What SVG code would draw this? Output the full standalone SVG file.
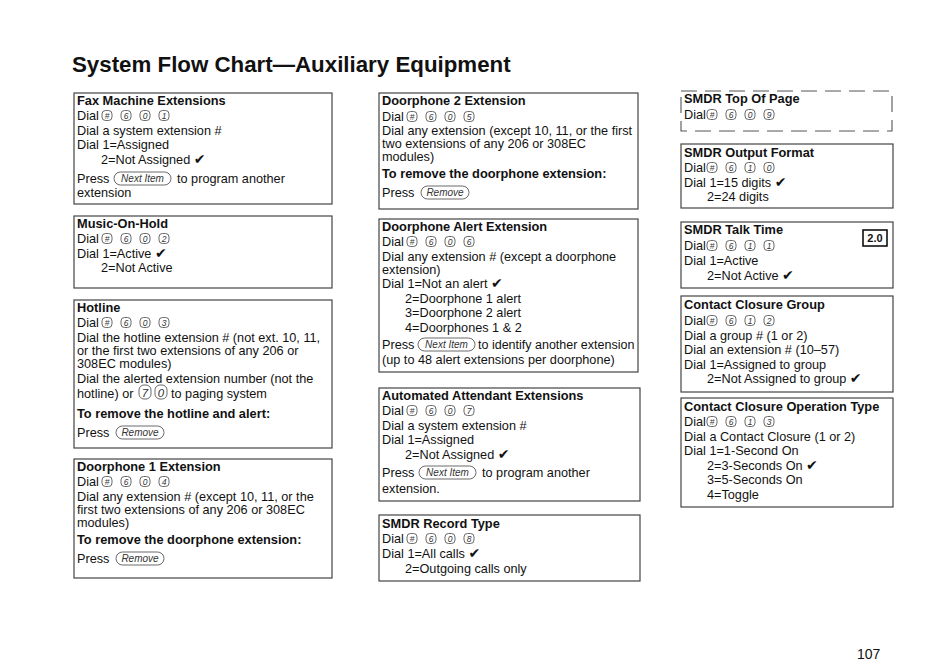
<svg xmlns="http://www.w3.org/2000/svg" width="950" height="669" viewBox="0 0 950 669">
<style>
text{font-family:"Liberation Sans",Arial,Helvetica,sans-serif;fill:#111;font-size:12.7px}
.b{font-weight:bold;font-size:12.8px}
.h1{font-weight:bold;font-size:22.3px}
.box{fill:#fff;stroke:#444;stroke-width:1.2}
.dash{fill:none;stroke:#555;stroke-width:1.1;stroke-dasharray:16 8}
.k{fill:#fff;stroke:#444;stroke-width:0.8}
.kt{font-size:8.5px;font-style:italic;text-anchor:middle;fill:#333}
.kb{font-size:11.5px;font-style:italic;text-anchor:middle;fill:#333}
.bt{font-size:10px;font-style:italic;text-anchor:middle;fill:#333}
.ck{font-family:"DejaVu Sans",sans-serif;font-size:14px}
.badge{fill:#fff;stroke:#000;stroke-width:1.5}
.bdg{font-size:11px;font-weight:bold;text-anchor:middle}
</style>
<defs>
<g id="key"><rect class="k" x="-5" y="-5" width="10" height="10" rx="3.5"/></g>
<g id="nextitem"><rect class="k" x="0" y="0" width="57" height="13" rx="6.5"/><text class="bt" x="28.5" y="9.8">Next Item</text></g>
<g id="remove"><rect class="k" x="0" y="0" width="48" height="13" rx="6.5"/><text class="bt" x="24" y="9.8">Remove</text></g>
</defs>
<rect width="950" height="669" fill="#fff"/>
<text class="h1" x="72" y="72">System Flow Chart—Auxiliary Equipment</text>

<g id="fax">
<rect class="box" x="74" y="93" width="258" height="111"/>
<text class="b" x="77" y="105">Fax Machine Extensions</text>
<text x="77" y="120">Dial</text>
<use href="#key" x="107" y="115.5"/><text class="kt" x="107" y="118.5">#</text>
<use href="#key" x="126" y="115.5"/><text class="kt" x="126" y="118.5">6</text>
<use href="#key" x="145" y="115.5"/><text class="kt" x="145" y="118.5">0</text>
<use href="#key" x="164" y="115.5"/><text class="kt" x="164" y="118.5">1</text>
<text x="77" y="135">Dial a system extension #</text>
<text x="77" y="149">Dial 1=Assigned</text>
<text x="101" y="164">2=Not Assigned <tspan class="ck">✔</tspan></text>
<text x="77" y="183">Press</text>
<use href="#nextitem" x="114" y="172"/>
<text x="177" y="183">to program another</text>
<text x="77" y="197">extension</text>
</g>

<g id="moh">
<rect class="box" x="74" y="216" width="258" height="72"/>
<text class="b" x="77" y="228">Music-On-Hold</text>
<text x="77" y="243">Dial</text>
<use href="#key" x="107" y="238.5"/><text class="kt" x="107" y="241.5">#</text>
<use href="#key" x="126" y="238.5"/><text class="kt" x="126" y="241.5">6</text>
<use href="#key" x="145" y="238.5"/><text class="kt" x="145" y="241.5">0</text>
<use href="#key" x="164" y="238.5"/><text class="kt" x="164" y="241.5">2</text>
<text x="77" y="258">Dial 1=Active <tspan class="ck">✔</tspan></text>
<text x="101" y="272">2=Not Active</text>
</g>

<g id="hotline">
<rect class="box" x="74" y="300" width="258" height="148"/>
<text class="b" x="77" y="312">Hotline</text>
<text x="77" y="327">Dial</text>
<use href="#key" x="107" y="322.5"/><text class="kt" x="107" y="325.5">#</text>
<use href="#key" x="126" y="322.5"/><text class="kt" x="126" y="325.5">6</text>
<use href="#key" x="145" y="322.5"/><text class="kt" x="145" y="325.5">0</text>
<use href="#key" x="164" y="322.5"/><text class="kt" x="164" y="325.5">3</text>
<text x="77" y="342">Dial the hotline extension # (not ext. 10, 11,</text>
<text x="77" y="355">or the first two extensions of any 206 or</text>
<text x="77" y="368">308EC modules)</text>
<text x="77" y="383">Dial the alerted extension number (not the</text>
<text x="77" y="398">hotline) or</text>
<rect class="k" x="139" y="385" width="12" height="14" rx="5"/><text class="kb" x="145" y="396.5">7</text>
<rect class="k" x="155" y="385" width="12" height="14" rx="5"/><text class="kb" x="161" y="396.5">0</text>
<text x="171" y="398">to paging system</text>
<text class="b" x="77" y="418">To remove the hotline and alert:</text>
<text x="77" y="437">Press</text>
<use href="#remove" x="116" y="426"/>
</g>

<g id="door1">
<rect class="box" x="74" y="459" width="258" height="119"/>
<text class="b" x="77" y="471">Doorphone 1 Extension</text>
<text x="77" y="486">Dial</text>
<use href="#key" x="107" y="481.5"/><text class="kt" x="107" y="484.5">#</text>
<use href="#key" x="126" y="481.5"/><text class="kt" x="126" y="484.5">6</text>
<use href="#key" x="145" y="481.5"/><text class="kt" x="145" y="484.5">0</text>
<use href="#key" x="164" y="481.5"/><text class="kt" x="164" y="484.5">4</text>
<text x="77" y="501">Dial any extension # (except 10, 11, or the</text>
<text x="77" y="514">first two extensions of any 206 or 308EC</text>
<text x="77" y="527">modules)</text>
<text class="b" x="77" y="544">To remove the doorphone extension:</text>
<text x="77" y="563">Press</text>
<use href="#remove" x="116" y="552"/>
</g>

<g id="door2">
<rect class="box" x="379" y="93" width="259" height="116"/>
<text class="b" x="382" y="105">Doorphone 2 Extension</text>
<text x="382" y="121">Dial</text>
<use href="#key" x="412" y="116.5"/><text class="kt" x="412" y="119.5">#</text>
<use href="#key" x="431" y="116.5"/><text class="kt" x="431" y="119.5">6</text>
<use href="#key" x="450" y="116.5"/><text class="kt" x="450" y="119.5">0</text>
<use href="#key" x="469" y="116.5"/><text class="kt" x="469" y="119.5">5</text>
<text x="382" y="135">Dial any extension (except 10, 11, or the first</text>
<text x="382" y="148">two extensions of any 206 or 308EC</text>
<text x="382" y="161">modules)</text>
<text class="b" x="382" y="178">To remove the doorphone extension:</text>
<text x="382" y="197">Press</text>
<use href="#remove" x="421" y="186"/>
</g>

<g id="alert">
<rect class="box" x="379" y="219" width="259" height="153"/>
<text class="b" x="382" y="231">Doorphone Alert Extension</text>
<text x="382" y="246">Dial</text>
<use href="#key" x="412" y="241.5"/><text class="kt" x="412" y="244.5">#</text>
<use href="#key" x="431" y="241.5"/><text class="kt" x="431" y="244.5">6</text>
<use href="#key" x="450" y="241.5"/><text class="kt" x="450" y="244.5">0</text>
<use href="#key" x="469" y="241.5"/><text class="kt" x="469" y="244.5">6</text>
<text x="382" y="261">Dial any extension # (except a doorphone</text>
<text x="382" y="274">extension)</text>
<text x="382" y="288">Dial 1=Not an alert <tspan class="ck">✔</tspan></text>
<text x="405" y="303">2=Doorphone 1 alert</text>
<text x="405" y="317">3=Doorphone 2 alert</text>
<text x="405" y="332">4=Doorphones 1 &amp; 2</text>
<text x="382" y="349">Press</text>
<use href="#nextitem" x="418" y="338"/>
<text x="478" y="349" style="font-size:12.5px">to identify another extension</text>
<text x="382" y="364">(up to 48 alert extensions per doorphone)</text>
</g>

<g id="autoattendant">
<rect class="box" x="379" y="388" width="261" height="113"/>
<text class="b" x="382" y="400">Automated Attendant Extensions</text>
<text x="382" y="415">Dial</text>
<use href="#key" x="412" y="410.5"/><text class="kt" x="412" y="413.5">#</text>
<use href="#key" x="431" y="410.5"/><text class="kt" x="431" y="413.5">6</text>
<use href="#key" x="450" y="410.5"/><text class="kt" x="450" y="413.5">0</text>
<use href="#key" x="469" y="410.5"/><text class="kt" x="469" y="413.5">7</text>
<text x="382" y="430">Dial a system extension #</text>
<text x="382" y="444">Dial 1=Assigned</text>
<text x="405" y="459">2=Not Assigned <tspan class="ck">✔</tspan></text>
<text x="382" y="477">Press</text>
<use href="#nextitem" x="419" y="466"/>
<text x="482" y="477">to program another</text>
<text x="382" y="493">extension.</text>
</g>

<g id="smdrrecord">
<rect class="box" x="379" y="515" width="261" height="66"/>
<text class="b" x="382" y="528">SMDR Record Type</text>
<text x="382" y="543">Dial</text>
<use href="#key" x="412" y="538.5"/><text class="kt" x="412" y="541.5">#</text>
<use href="#key" x="431" y="538.5"/><text class="kt" x="431" y="541.5">6</text>
<use href="#key" x="450" y="538.5"/><text class="kt" x="450" y="541.5">0</text>
<use href="#key" x="469" y="538.5"/><text class="kt" x="469" y="541.5">8</text>
<text x="382" y="558">Dial 1=All calls <tspan class="ck">✔</tspan></text>
<text x="405" y="573">2=Outgoing calls only</text>
</g>

<g id="smdrtop">
<rect class="dash" x="681" y="91" width="211" height="40"/>
<text class="b" x="684" y="103">SMDR Top Of Page</text>
<text x="684" y="119">Dial</text>
<use href="#key" x="712" y="114.5"/><text class="kt" x="712" y="117.5">#</text>
<use href="#key" x="731" y="114.5"/><text class="kt" x="731" y="117.5">6</text>
<use href="#key" x="750" y="114.5"/><text class="kt" x="750" y="117.5">0</text>
<use href="#key" x="769" y="114.5"/><text class="kt" x="769" y="117.5">9</text>
</g>

<g id="smdroutput">
<rect class="box" x="681" y="144" width="212" height="64"/>
<text class="b" x="684" y="157">SMDR Output Format</text>
<text x="684" y="172">Dial</text>
<use href="#key" x="712" y="167.5"/><text class="kt" x="712" y="170.5">#</text>
<use href="#key" x="731" y="167.5"/><text class="kt" x="731" y="170.5">6</text>
<use href="#key" x="750" y="167.5"/><text class="kt" x="750" y="170.5">1</text>
<use href="#key" x="769" y="167.5"/><text class="kt" x="769" y="170.5">0</text>
<text x="684" y="187">Dial 1=15 digits <tspan class="ck">✔</tspan></text>
<text x="707" y="201">2=24 digits</text>
</g>

<g id="smdrtalk">
<rect class="box" x="681" y="222" width="212" height="66"/>
<text class="b" x="684" y="234">SMDR Talk Time</text>
<rect class="badge" x="863" y="230" width="24" height="16"/>
<text class="bdg" x="875" y="242">2.0</text>
<text x="684" y="250">Dial</text>
<use href="#key" x="712" y="245.5"/><text class="kt" x="712" y="248.5">#</text>
<use href="#key" x="731" y="245.5"/><text class="kt" x="731" y="248.5">6</text>
<use href="#key" x="750" y="245.5"/><text class="kt" x="750" y="248.5">1</text>
<use href="#key" x="769" y="245.5"/><text class="kt" x="769" y="248.5">1</text>
<text x="684" y="265">Dial 1=Active</text>
<text x="707" y="280">2=Not Active <tspan class="ck">✔</tspan></text>
</g>

<g id="ccgroup">
<rect class="box" x="681" y="296" width="212" height="96"/>
<text class="b" x="684" y="309">Contact Closure Group</text>
<text x="684" y="325">Dial</text>
<use href="#key" x="712" y="320.5"/><text class="kt" x="712" y="323.5">#</text>
<use href="#key" x="731" y="320.5"/><text class="kt" x="731" y="323.5">6</text>
<use href="#key" x="750" y="320.5"/><text class="kt" x="750" y="323.5">1</text>
<use href="#key" x="769" y="320.5"/><text class="kt" x="769" y="323.5">2</text>
<text x="684" y="340">Dial a group # (1 or 2)</text>
<text x="684" y="354">Dial an extension # (10–57)</text>
<text x="684" y="369">Dial 1=Assigned to group</text>
<text x="707" y="383">2=Not Assigned to group <tspan class="ck">✔</tspan></text>
</g>

<g id="ccoptype">
<rect class="box" x="681" y="398" width="212" height="109"/>
<text class="b" x="684" y="411">Contact Closure Operation Type</text>
<text x="684" y="426">Dial</text>
<use href="#key" x="712" y="421.5"/><text class="kt" x="712" y="424.5">#</text>
<use href="#key" x="731" y="421.5"/><text class="kt" x="731" y="424.5">6</text>
<use href="#key" x="750" y="421.5"/><text class="kt" x="750" y="424.5">1</text>
<use href="#key" x="769" y="421.5"/><text class="kt" x="769" y="424.5">3</text>
<text x="684" y="441">Dial a Contact Closure (1 or 2)</text>
<text x="684" y="455">Dial 1=1-Second On</text>
<text x="707" y="470">2=3-Seconds On <tspan class="ck">✔</tspan></text>
<text x="707" y="484">3=5-Seconds On</text>
<text x="707" y="499">4=Toggle</text>
</g>

<text x="857" y="659" style="font-size:14px">107</text>
</svg>
